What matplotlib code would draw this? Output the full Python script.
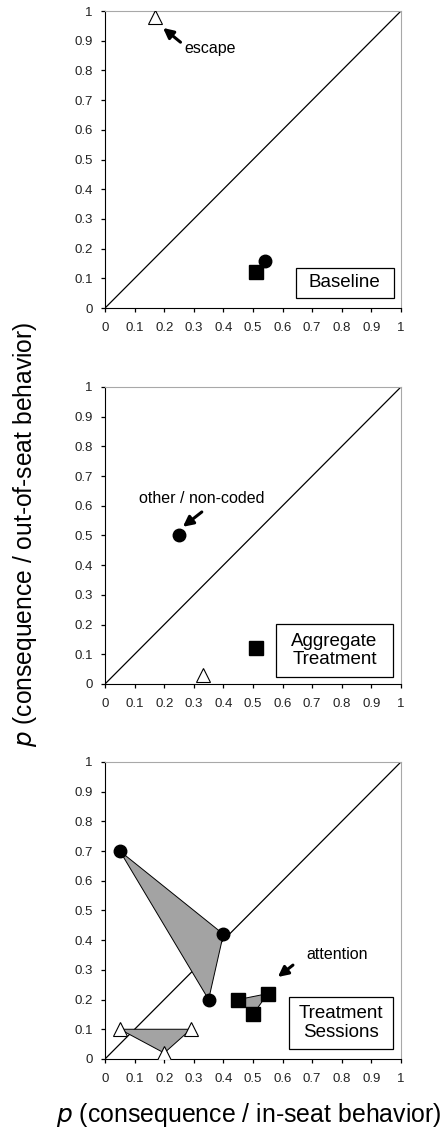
import matplotlib.pyplot as plt
from matplotlib.patches import Polygon, Rectangle

plt.rcParams['font.family'] = ['Liberation Sans', 'DejaVu Sans']

# Baseline
base_tri = [(0.17, 0.98)]
base_circ = [(0.54, 0.16)]
base_sq = [(0.51, 0.12)]

# Aggregate treatment
agg_tri = [(0.33, 0.03)]
agg_circ = [(0.25, 0.50)]
agg_sq = [(0.51, 0.12)]

# Treatment sessions
ses_tri = [(0.05, 0.10), (0.29, 0.10), (0.20, 0.02)]
ses_circ = [(0.05, 0.70), (0.40, 0.42), (0.35, 0.20)]
ses_sq = [(0.45, 0.20), (0.55, 0.22), (0.50, 0.15)]

ticks = [0, 0.1, 0.2, 0.3, 0.4, 0.5, 0.6, 0.7, 0.8, 0.9, 1]
tick_labels = ['0', '0.1', '0.2', '0.3', '0.4', '0.5', '0.6', '0.7', '0.8', '0.9', '1']

fig = plt.figure(figsize=(4.47, 11.35), dpi=100)
left, width, height = 0.235, 0.662, 0.2617
bottoms = [0.7286, 0.3974, 0.067]


def setup(ax):
    ax.set_xlim(0, 1)
    ax.set_ylim(0, 1)
    ax.plot([0, 1], [0, 1], color='black', lw=0.9, zorder=1)
    ax.set_xticks(ticks)
    ax.set_yticks(ticks)
    ax.set_xticklabels(tick_labels, fontsize=9.5, color='#222222')
    ax.set_yticklabels(tick_labels, fontsize=9.5, color='#222222')
    ax.tick_params(axis='x', direction='out', length=3, width=0.9, pad=7)
    ax.tick_params(axis='y', direction='out', length=3, width=0.9, pad=6)
    for s in ['top', 'right']:
        ax.spines[s].set_color('#a8a8a8')
    for s in ['left', 'bottom']:
        ax.spines[s].set_color('black')


def markers(ax, tri, circ, sq, fill=False):
    if fill:
        for pts in (tri, circ, sq):
            ax.add_patch(Polygon(pts, closed=True, facecolor='#a3a3a3',
                                 edgecolor='black', lw=0.7, zorder=2))
    ax.plot([p[0] for p in tri], [p[1] for p in tri], '^', ls='none', ms=10,
            mfc='white', mec='black', mew=0.8, zorder=3)
    ax.plot([p[0] for p in circ], [p[1] for p in circ], 'o', ls='none', ms=9,
            color='black', zorder=3)
    ax.plot([p[0] for p in sq], [p[1] for p in sq], 's', ls='none', ms=10.5,
            color='black', zorder=3)


def label_box(ax, text, x0, y0, x1, y1):
    ax.add_patch(Rectangle((x0, y0), x1 - x0, y1 - y0, facecolor='white',
                           edgecolor='black', lw=0.9, zorder=4))
    ax.text((x0 + x1) / 2, (y0 + y1) / 2, text, fontsize=13.5, ha='center',
            va='center', linespacing=1.1, zorder=5)


arrow = dict(arrowstyle='-|>,head_length=0.6,head_width=0.3', color='black', lw=2.2,
             shrinkA=0, shrinkB=0)

ax1 = fig.add_axes([left, bottoms[0], width, height])
setup(ax1)
markers(ax1, base_tri, base_circ, base_sq)
ax1.annotate('', xy=(0.196, 0.943), xytext=(0.255, 0.895), arrowprops=arrow)
ax1.text(0.267, 0.875, 'escape', fontsize=11.5, ha='left', va='center')
label_box(ax1, 'Baseline', 0.645, 0.034, 0.975, 0.135)

ax2 = fig.add_axes([left, bottoms[1], width, height])
setup(ax2)
markers(ax2, agg_tri, agg_circ, agg_sq)
ax2.annotate('', xy=(0.263, 0.529), xytext=(0.327, 0.579), arrowprops=arrow)
ax2.text(0.327, 0.626, 'other / non-coded', fontsize=11.5, ha='center', va='center')
label_box(ax2, 'Aggregate\nTreatment', 0.578, 0.024, 0.973, 0.202)

ax3 = fig.add_axes([left, bottoms[2], width, height])
setup(ax3)
markers(ax3, ses_tri, ses_circ, ses_sq, fill=True)
ax3.annotate('', xy=(0.584, 0.276), xytext=(0.635, 0.316), arrowprops=arrow)
ax3.text(0.68, 0.353, 'attention', fontsize=11.5, ha='left', va='center')
label_box(ax3, 'Treatment\nSessions', 0.622, 0.034, 0.973, 0.209)

fig.text(0.055, 0.529, r'$\it{p}$ (consequence / out-of-seat behavior)', rotation=90,
         fontsize=17.7, ha='center', va='center')
fig.text(0.557, 0.0176, r'$\it{p}$ (consequence / in-seat behavior)',
         fontsize=17.9, ha='center', va='center')

fig.savefig('out.png', dpi=100)
